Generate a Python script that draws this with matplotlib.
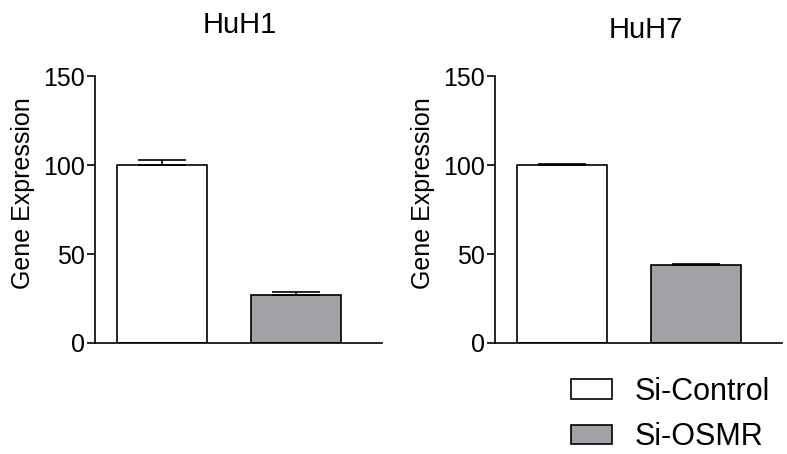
import matplotlib.pyplot as plt
from matplotlib.patches import Patch

plt.rcParams['font.family'] = ['Liberation Sans', 'DejaVu Sans']

# Datos
lineas = ['HuH1', 'HuH7']
grupos = ['Si-Control', 'Si-OSMR']
huh1_vals = [100, 27]
huh1_err = [3, 1.5]
huh7_vals = [100, 44]
huh7_err = [0.5, 0.5]
colores = ['white', '#a2a2a6']

fig = plt.figure(figsize=(7.87, 4.54), dpi=100)

posiciones = [0.1207, 0.629]
datos = [(huh1_vals, huh1_err), (huh7_vals, huh7_err)]
titulo_x = [0.305, 0.82]
titulo_y = [0.945, 0.935]

for i, (nombre, (vals, errs)) in enumerate(zip(lineas, datos)):
    ax = fig.add_axes([posiciones[i], 0.2445, 0.3647, 0.588])
    xs = range(len(vals))
    ax.bar(xs, vals, width=0.67, color=colores, edgecolor='black', linewidth=1.2, zorder=2)
    # Solo barra de error superior (estilo GraphPad)
    ax.errorbar(xs, vals, yerr=[[0] * len(errs), errs], fmt='none', ecolor='black',
                elinewidth=1.2, capsize=17, capthick=1.2, zorder=3)
    ax.set_xlim(-0.5, 1.642)
    ax.set_ylim(0, 150)
    ax.set_yticks([0, 50, 100, 150])
    ax.set_xticks([])
    ax.spines['top'].set_visible(False)
    ax.spines['right'].set_visible(False)
    ax.spines['left'].set_linewidth(1.2)
    ax.spines['bottom'].set_linewidth(1.2)
    ax.tick_params(axis='y', labelsize=18, length=6, width=1.2, pad=1)
    ax.set_ylabel('Gene Expression', fontsize=18)
    ax.yaxis.set_label_coords(-0.21, 0.56)
    fig.text(titulo_x[i], titulo_y[i], nombre, fontsize=21, ha='center', va='center')

# Leyenda
handles = [Patch(facecolor=c, edgecolor='black', linewidth=1.2) for c in colores]
fig.legend(handles, grupos, loc='upper left', bbox_to_anchor=(0.726, 0.17),
           frameon=False, fontsize=22, handlelength=1.32, handleheight=0.6,
           handletextpad=0.75, labelspacing=0.5, borderpad=0, borderaxespad=0)

plt.savefig('out.png', dpi=100)
